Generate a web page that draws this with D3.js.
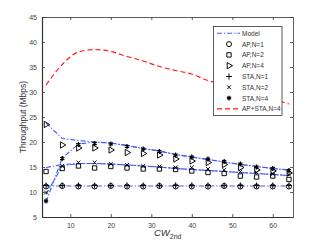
<!DOCTYPE html>
<html><head><meta charset="utf-8">
<script src="https://cdn.jsdelivr.net/npm/d3@7"></script>
<style>body{margin:0;background:#fff}svg{display:block;font-family:"Liberation Sans",Arial,sans-serif}</style>
</head><body><svg id="c" width="324" height="244"></svg>
<script>
const cw = [4,8,12,16,20,24,28,32,36,40,44,48,52,56,60,64];
const apN1  = [11.1,11.2,11.1,11.1,11.2,11.1,11.1,11.2,11.1,11.1,11.1,11.2,11.1,11.1,11.1,11.1];
const staN1 = [11.3,11.3,11.3,11.3,11.3,11.3,11.3,11.3,11.3,11.3,11.3,11.3,11.3,11.3,11.3,11.3];
const apN2  = [14.1,14.7,15.2,14.8,15.1,14.8,14.6,14.6,14.5,14.2,13.9,13.7,13.2,13.0,13.2,12.5];
const staN2 = [9.9,15.2,15.9,15.9,15.6,15.4,15.2,15.1,14.9,14.9,14.6,14.4,14.1,13.9,13.6,13.5];
const apN4  = [23.5,19.4,18.8,18.8,18.4,17.9,17.7,17.4,16.6,16.2,15.9,15.5,14.9,14.4,14.2,13.8];
const staN4 = [8.2,16.7,19.5,19.7,19.6,19.1,18.6,18.1,17.4,17.0,16.6,16.1,15.6,15.0,14.7,14.3];
const modelN1    = [11.2,11.2,11.2,11.2,11.2,11.2,11.2,11.2,11.2,11.2,11.2,11.2,11.2,11.2,11.2,11.2];
const modelAPN2  = [14.9,15.5,15.7,15.7,15.6,15.4,15.2,15.0,14.7,14.5,14.3,14.1,13.9,13.7,13.5,13.3];
const modelSTAN2 = [9.5,15.2,15.7,15.7,15.6,15.4,15.2,15.0,14.7,14.5,14.3,14.1,13.9,13.7,13.5,13.3];
const modelAPN4  = [23.8,20.7,20.3,20.0,19.8,19.3,18.7,18.2,17.5,17.0,16.5,16.0,15.5,15.1,14.7,14.4];
const modelSTAN4 = [8.0,16.8,19.6,20.0,19.8,19.3,18.7,18.2,17.5,17.0,16.5,16.0,15.5,15.1,14.7,14.4];
const sumN4 = [31.4,35.5,38.0,38.5,38.1,37.1,36.2,35.1,34.3,33.6,32.3,31.5,30.6,29.6,28.6,27.6];
const xTicks = [10,20,30,40,50,60];
const yTicks = [5,10,15,20,25,30,35,40,45];
const legendLabels = ["Model","AP,N=1","AP,N=2","AP,N=4","STA,N=1","STA,N=2","STA,N=4","AP+STA,N=4"];

const svg = d3.select("#c");
const L=42,R=293,T=17,B=217;
const x = d3.scaleLinear().domain([3,65]).range([L,R]);
const y = d3.scaleLinear().domain([5,45]).range([B,T]);
const axisCol="#333", blue="#3f5cff", red="#ff1a1a";

const gb = svg.append("g").attr("transform",`translate(0,${B})`).call(d3.axisBottom(x).tickValues(xTicks).tickSizeInner(-3).tickSizeOuter(0).tickPadding(6));
const gt = svg.append("g").attr("transform",`translate(0,${T})`).call(d3.axisTop(x).tickValues(xTicks).tickSizeInner(-3).tickSizeOuter(0).tickFormat(""));
const gl = svg.append("g").attr("transform",`translate(${L},0)`).call(d3.axisLeft(y).tickValues(yTicks).tickSizeInner(-3).tickSizeOuter(0).tickPadding(5));
const gr = svg.append("g").attr("transform",`translate(${R},0)`).call(d3.axisRight(y).tickValues(yTicks).tickSizeInner(-3).tickSizeOuter(0).tickFormat(""));
[gb,gt,gl,gr].forEach(g=>{g.selectAll("path,line").attr("stroke",axisCol).attr("stroke-width",0.8);g.selectAll("text").attr("fill","#444").style("font-size","7px").style("font-family","Liberation Sans, Arial, sans-serif");});
gb.select(".domain").attr("stroke-width",1.2);
gl.select(".domain").attr("stroke-width",1.2);

const line = d3.line().x((d,i)=>x(cw[i])).y(d=>y(d));
const lineSmooth = d3.line().x((d,i)=>x(cw[i])).y(d=>y(d)).curve(d3.curveMonotoneX);
const plot = svg.append("g");
[modelN1,modelAPN2,modelSTAN2,modelAPN4,modelSTAN4].forEach(arr=>{
  plot.append("path").attr("d",line(arr)).attr("fill","none").attr("stroke",blue).attr("stroke-width",1.1).attr("stroke-dasharray","5,2,1.2,2");
});
plot.append("path").attr("d",lineSmooth(sumN4)).attr("fill","none").attr("stroke",red).attr("stroke-width",1.2).attr("stroke-dasharray","5,3");

const S = d3;
const sym = {
  circle: d3.symbol().type(S.symbolCircle).size(20),
  square: d3.symbol().type(S.symbolSquare2||S.symbolSquare).size(24),
  tri: d3.symbol().type(S.symbolTriangle2||S.symbolTriangle).size(28),
  plus: d3.symbol().type(S.symbolPlus||S.symbolCross).size(14),
  times: d3.symbol().type(S.symbolTimes||S.symbolCross).size(11),
  star: d3.symbol().type(S.symbolAsterisk||S.symbolStar).size(16)
};
function marks(arr,key,rot){
  plot.selectAll(null).data(arr).enter().append("path")
   .attr("d",sym[key]())
   .attr("transform",(d,i)=>`translate(${x(cw[i])},${y(d)})${rot?" rotate(90)":""}`)
   .attr("fill",key==="star"?"#000":"none").attr("stroke","#000").attr("stroke-width",key==="star"?1.3:0.95);
}
marks(apN1,"circle");
marks(apN2,"square");
marks(apN4,"tri",true);
marks(staN1,"plus");
marks(staN2,"times");
marks(staN4,"star");

const lg = svg.append("g");
lg.append("rect").attr("x",213.5).attr("y",26.5).attr("width",68.5).attr("height",89).attr("fill","#fff").attr("stroke","#333").attr("stroke-width",0.8);
const rowY = i=>33.3+i*10.8;
const keys=[null,"circle","square","tri","plus","times","star",null];
legendLabels.forEach((t,i)=>{
  const yy=rowY(i);
  if(i===0) lg.append("line").attr("x1",217).attr("x2",240).attr("y1",yy).attr("y2",yy).attr("stroke",blue).attr("stroke-width",1.1).attr("stroke-dasharray","5,2,1.2,2");
  else if(i===7) lg.append("line").attr("x1",217).attr("x2",240).attr("y1",yy).attr("y2",yy).attr("stroke",red).attr("stroke-width",1.2).attr("stroke-dasharray","5,3");
  else lg.append("path").attr("d",sym[keys[i]]()).attr("transform",`translate(229,${yy})${keys[i]==="tri"?" rotate(90)":""}`)
     .attr("fill",keys[i]==="star"?"#000":"none").attr("stroke","#000").attr("stroke-width",keys[i]==="star"?1.3:0.95);
  lg.append("text").attr("x",242).attr("y",yy+2.4).attr("fill","#333").style("font-size","6.5px").text(t);
});

svg.append("text").attr("transform",`translate(26,${(T+B)/2}) rotate(-90)`).attr("text-anchor","middle").attr("fill","#333").style("font-size","8.5px").text("Throughput (Mbps)");
const xl = svg.append("text").attr("x",154).attr("y",236).attr("fill","#333").style("font-size","9.5px");
xl.append("tspan").style("font-style","italic").text("CW");
xl.append("tspan").attr("dy",3).style("font-size","7px").text("2nd");
</script></body></html>
